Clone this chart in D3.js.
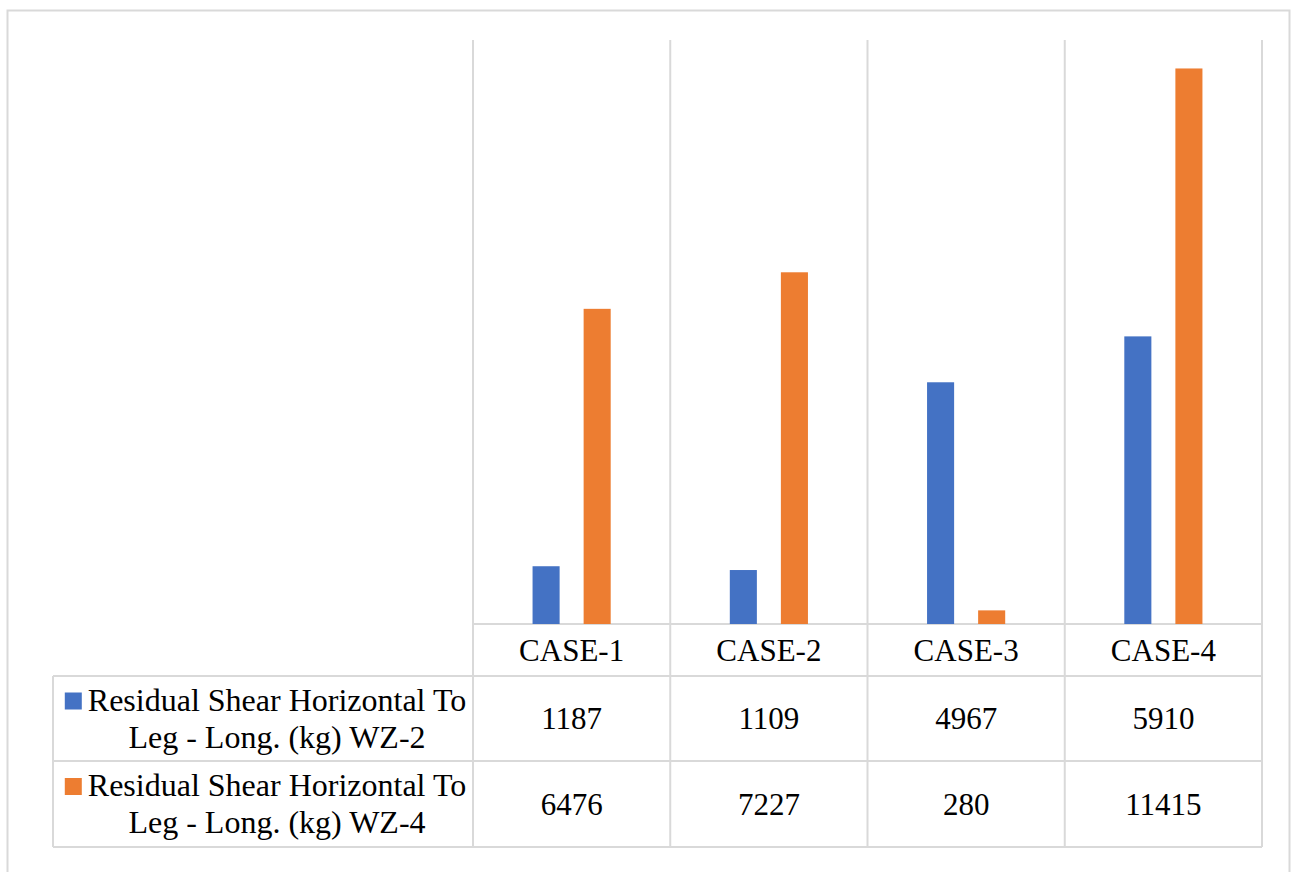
<!DOCTYPE html>
<html>
<head>
<meta charset="utf-8">
<script src="https://cdn.jsdelivr.net/npm/d3@7"></script>
<style>
  html, body { margin: 0; padding: 0; background: #fff; }
  svg { display: block; }
</style>
</head>
<body>
<svg id="chart" width="1292" height="872"></svg>
<script>
// Categories, series and their values
const categories = ["CASE-1", "CASE-2", "CASE-3", "CASE-4"];
const seriesNames = [
  ["Residual Shear Horizontal To", "Leg - Long. (kg) WZ-2"],
  ["Residual Shear Horizontal To", "Leg - Long. (kg) WZ-4"]
];
const seriesWZ2 = [1187, 1109, 4967, 5910];
const seriesWZ4 = [6476, 7227, 280, 11415];
const seriesColors = ["#4472C4", "#ED7D31"];
const yMax = 12000;

const series = [seriesWZ2, seriesWZ4];

const FONT = "'Liberation Serif', 'Times New Roman', Tinos, 'DejaVu Serif', serif";
const svg = d3.select("#chart").attr("font-family", FONT);
const gridColor = "#d9d9d9";

// Layout
const plotLeft = 473, plotRight = 1262, plotTop = 40, plotBottom = 624;
const tableLeft = 53;
const rowCat = [624, 676];
const rows = [[676, 761], [761, 847]];

// Outer frame
svg.append("rect")
  .attr("x", 7.5).attr("y", 10.5)
  .attr("width", 1282).attr("height", 900)
  .attr("fill", "none").attr("stroke", gridColor).attr("stroke-width", 2);

const x = d3.scaleBand().domain(categories).range([plotLeft, plotRight]).padding(0);
const y = d3.scaleLinear().domain([0, yMax]).range([plotBottom, plotTop]);
const xs = d3.scaleBand().domain(d3.range(series.length))
  .range([0, x.bandwidth()]).paddingInner(0.47).paddingOuter(1.166);

const grid = svg.append("g").attr("stroke", gridColor).attr("stroke-width", 2);

// Vertical category separators running through the chart and the data table
const bounds = categories.map(c => x(c)).concat([plotRight]);
grid.selectAll("line.v").data(bounds).join("line")
  .attr("x1", d => d).attr("x2", d => d)
  .attr("y1", plotTop).attr("y2", rows[1][1]);

// Horizontal lines
grid.append("line").attr("x1", plotLeft).attr("x2", plotRight).attr("y1", plotBottom).attr("y2", plotBottom);
[rows[0][0], rows[1][0], rows[1][1]].forEach(yy => {
  grid.append("line").attr("x1", tableLeft).attr("x2", plotRight).attr("y1", yy).attr("y2", yy);
});
grid.append("line").attr("x1", tableLeft).attr("x2", tableLeft).attr("y1", rows[0][0]).attr("y2", rows[1][1]);

// Bars
series.forEach((vals, si) => {
  svg.append("g").selectAll("rect").data(vals).join("rect")
    .attr("x", (d, i) => x(categories[i]) + xs(si))
    .attr("width", xs.bandwidth())
    .attr("y", d => y(d))
    .attr("height", d => y(0) - y(d))
    .attr("fill", seriesColors[si]);
});

const fontSize = 31;
const legendFontSize = 32;

// Category labels
svg.append("g").selectAll("text").data(categories).join("text")
  .attr("x", d => x(d) + x.bandwidth() / 2)
  .attr("y", (rowCat[0] + rowCat[1]) / 2)
  .attr("dy", "0.35em")
  .attr("text-anchor", "middle")
  .attr("font-size", fontSize)
  .attr("fill", "#000")
  .text(d => d);

// Data table rows
series.forEach((vals, si) => {
  const [r0, r1] = rows[si];
  const mid = (r0 + r1) / 2;
  svg.append("g").selectAll("text").data(vals).join("text")
    .attr("x", (d, i) => x(categories[i]) + x.bandwidth() / 2)
    .attr("y", mid)
    .attr("dy", "0.35em")
    .attr("text-anchor", "middle")
    .attr("font-size", fontSize)
    .attr("fill", "#000")
    .text(d => d);

  // Legend key and two-line series name
  const textCx = 277;
  const l1 = svg.append("text")
    .attr("x", textCx).attr("y", mid - 19).attr("dy", "0.35em")
    .attr("text-anchor", "middle").attr("font-size", legendFontSize)
    .attr("fill", "#000")
    .text(seriesNames[si][0]);
  svg.append("text")
    .attr("x", textCx).attr("y", mid + 18).attr("dy", "0.35em")
    .attr("text-anchor", "middle").attr("font-size", legendFontSize)
    .attr("fill", "#000")
    .text(seriesNames[si][1]);
  const bb = l1.node().getBBox();
  svg.append("rect")
    .attr("x", bb.x - 23).attr("y", mid - 26)
    .attr("width", 17).attr("height", 17)
    .attr("fill", seriesColors[si]);
});
</script>
</body>
</html>
